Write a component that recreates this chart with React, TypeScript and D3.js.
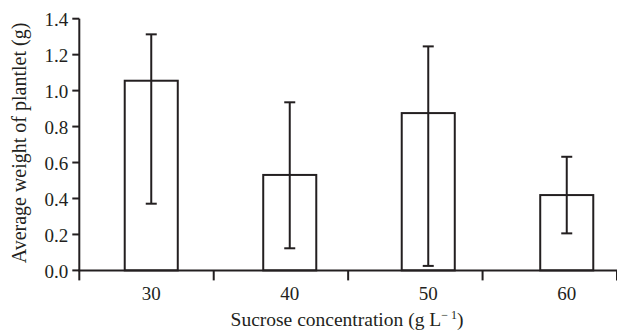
import { useEffect, useRef } from "react"
import * as d3 from "d3"

const categories = ["30", "40", "50", "60"]
const means = [1.055, 0.531, 0.875, 0.419]
const errLow = [0.371, 0.123, 0.025, 0.206]
const errHigh = [1.313, 0.935, 1.246, 0.632]
const yTicks = [0, 0.2, 0.4, 0.6, 0.8, 1.0, 1.2, 1.4]

export default function App() {
  const ref = useRef<SVGSVGElement | null>(null)

  useEffect(() => {
    const svg = d3.select(ref.current)
    svg.selectAll("*").remove()

    const width = 617
    const height = 333
    const ink = "#231f20"
    const font = "'Liberation Serif', 'Times New Roman', serif"

    svg.attr("width", width).attr("height", height)

    const x = d3.scaleBand()
      .domain(categories)
      .range([82, 636])
      .paddingInner(0.617)
      .paddingOuter(0.3085)

    // boundary ticks of the x axis
    const xb = d3.scaleLinear().domain([0, 4]).range([79.3, 617])

    const y = d3.scaleLinear()
      .domain([0, 1.4])
      .range([270.4, 18.7])

    const g = svg.append("g")

    // bars
    g.selectAll("rect.bar")
      .data(categories)
      .enter()
      .append("rect")
      .attr("class", "bar")
      .attr("x", d => x(d)!)
      .attr("y", (_, i) => y(means[i]))
      .attr("width", x.bandwidth())
      .attr("height", (_, i) => y(0) - y(means[i]))
      .attr("fill", "none")
      .attr("stroke", ink)
      .attr("stroke-width", 2)

    // error bars
    const cx = (d: string) => x(d)! + x.bandwidth() / 2
    const capW = 11

    g.selectAll("line.err")
      .data(categories)
      .enter()
      .append("line")
      .attr("x1", d => cx(d))
      .attr("x2", d => cx(d))
      .attr("y1", (_, i) => y(errLow[i]))
      .attr("y2", (_, i) => y(errHigh[i]))
      .attr("stroke", ink)
      .attr("stroke-width", 2)

    const caps = categories.flatMap((d, i) => [
      { d, v: errLow[i] },
      { d, v: errHigh[i] }
    ])
    g.selectAll("line.cap")
      .data(caps)
      .enter()
      .append("line")
      .attr("x1", c => cx(c.d) - capW / 2)
      .attr("x2", c => cx(c.d) + capW / 2)
      .attr("y1", c => y(c.v))
      .attr("y2", c => y(c.v))
      .attr("stroke", ink)
      .attr("stroke-width", 2)

    // y axis
    g.append("line")
      .attr("x1", xb(0)).attr("x2", xb(0))
      .attr("y1", y(1.4)).attr("y2", y(0))
      .attr("stroke", ink).attr("stroke-width", 2)

    g.selectAll("line.ytick")
      .data(yTicks)
      .enter()
      .append("line")
      .attr("x1", xb(0) - 7).attr("x2", xb(0))
      .attr("y1", d => y(d)).attr("y2", d => y(d))
      .attr("stroke", ink).attr("stroke-width", 2)

    g.selectAll("text.ylab")
      .data(yTicks)
      .enter()
      .append("text")
      .text(d => d3.format(".1f")(d))
      .attr("x", xb(0) - 11)
      .attr("y", d => y(d) + 7.5)
      .attr("text-anchor", "end")
      .attr("font-size", 19)
      .attr("fill", ink)
      .style("font-family", font)

    // x axis
    g.append("line")
      .attr("x1", xb(0) - 1).attr("x2", width)
      .attr("y1", y(0)).attr("y2", y(0))
      .attr("stroke", ink).attr("stroke-width", 2)

    g.selectAll("line.xtick")
      .data([0, 1, 2, 3, 4])
      .enter()
      .append("line")
      .attr("x1", d => xb(d)).attr("x2", d => xb(d))
      .attr("y1", y(0)).attr("y2", y(0) + 10)
      .attr("stroke", ink).attr("stroke-width", 2)

    g.selectAll("text.xlab")
      .data(categories)
      .enter()
      .append("text")
      .text(d => d)
      .attr("x", d => cx(d))
      .attr("y", 300)
      .attr("text-anchor", "middle")
      .attr("font-size", 19)
      .attr("fill", ink)
      .style("font-family", font)

    // axis titles
    const xt = g.append("text")
      .attr("x", 347)
      .attr("y", 326)
      .attr("text-anchor", "middle")
      .attr("font-size", 19.5)
      .attr("fill", ink)
      .style("font-family", font)
    xt.append("tspan").text("Sucrose concentration (g L")
    xt.append("tspan").text("\u2212 1").attr("font-size", 12).attr("dy", -7)
    xt.append("tspan").text(")").attr("dy", 7)

    g.append("text")
      .text("Average weight of plantlet (g)")
      .attr("transform", "translate(26,143) rotate(-90)")
      .attr("text-anchor", "middle")
      .attr("font-size", 20)
      .attr("fill", ink)
      .style("font-family", font)
  }, [])

  return (
    <svg
      ref={ref}
      style={{ position: "absolute", left: 0, top: 0, background: "#fff" }}
    />
  )
}
